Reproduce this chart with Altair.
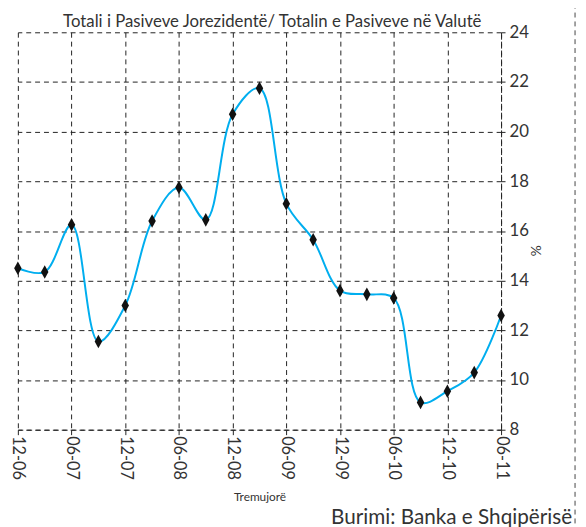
import altair as alt
import pandas as pd

quarters = ["12-06", "03-07", "06-07", "09-07", "12-07", "03-08", "06-08", "09-08",
            "12-08", "03-09", "06-09", "09-09", "12-09", "03-10", "06-10", "09-10",
            "12-10", "03-11", "06-11"]
values = [14.5, 14.35, 16.25, 11.55, 13.0, 16.4, 17.75, 16.45, 20.7, 21.75, 17.1,
          15.65, 13.6, 13.45, 13.3, 9.1, 9.55, 10.3, 12.6]
tick_labels = quarters[::2]
y_ticks = list(range(8, 25, 2))
title_text = "Totali i Pasiveve Jorezidentë/ Totalin e Pasiveve në Valutë"
source_text = "Burimi: Banka e Shqipërisë"

df = pd.DataFrame({"q": quarters, "v": values})

FONT = "Lato"
TXT = "#333333"

x_enc = alt.X(
    "q:O", sort=quarters,
    scale=alt.Scale(type="point", padding=0),
    axis=alt.Axis(values=tick_labels, labelAngle=90, labelAlign="left", labelBaseline="middle",
                  title="Tremujorë", grid=True, gridDash=[5, 4], gridColor="#222222",
                  gridOpacity=1, domainColor="#222222", domainDash=[5, 4],
                  tickColor="#222222", tickSize=5, labelFontSize=16.5, labelColor=TXT,
                  labelFont=FONT, titleFont=FONT, titleFontSize=12, titleFontWeight="normal",
                  titleColor=TXT, titleY=68, titleBaseline="middle", labelPadding=1),
)
y_enc = alt.Y(
    "v:Q",
    scale=alt.Scale(domain=[8, 24], nice=False, zero=False),
    axis=alt.Axis(orient="right", values=y_ticks, grid=True, gridDash=[5, 4],
                  gridColor="#222222", gridOpacity=1, domainColor="#222222",
                  domainDash=[5, 4], tickColor="#222222", tickSize=4,
                  labelFontSize=17, labelColor=TXT, labelFont=FONT, labelPadding=4,
                  title="%", titleFont=FONT, titleFontSize=14, titleFontWeight="normal",
                  titleColor=TXT, titleAngle=90, titleX=27, titleY=221),
)

base = alt.Chart(df)
line = base.mark_line(interpolate="catmull-rom", color="#00AEEF", strokeWidth=2).encode(x=x_enc, y=y_enc)
pts = base.mark_point(shape="M0,-1L0.55,0L0,1L-0.55,0Z", filled=True, color="#111111",
                      opacity=1, size=190).encode(x=alt.X("q:O", sort=quarters), y="v:Q")

src = alt.Chart(pd.DataFrame({"t": [source_text]})).mark_text(
    align="right", baseline="alphabetic", font=FONT, fontSize=21, color=TXT
).encode(text="t:N", x=alt.value(562), y=alt.value(499))

ttl = alt.Chart(pd.DataFrame({"t": [title_text]})).mark_text(
    align="center", baseline="alphabetic", font=FONT, fontSize=17, color=TXT
).encode(text="t:N", x=alt.value(258), y=alt.value(-5))

frame = alt.Chart(pd.DataFrame({"a": [0]})).mark_rule(
    strokeDash=[5, 4], color="#444444", strokeWidth=1
).encode(x=alt.value(565), y=alt.value(-29), y2=alt.value(498))

chart = alt.layer(line, pts, src, ttl, frame).properties(
    width=490, height=403,
    autosize=alt.AutoSizeParams(type="none"),
    padding={"left": 10, "top": 21, "right": 78, "bottom": 95},
).configure_view(stroke=None)

chart.save("out.html", embed_options={"renderer": "svg", "actions": False})
